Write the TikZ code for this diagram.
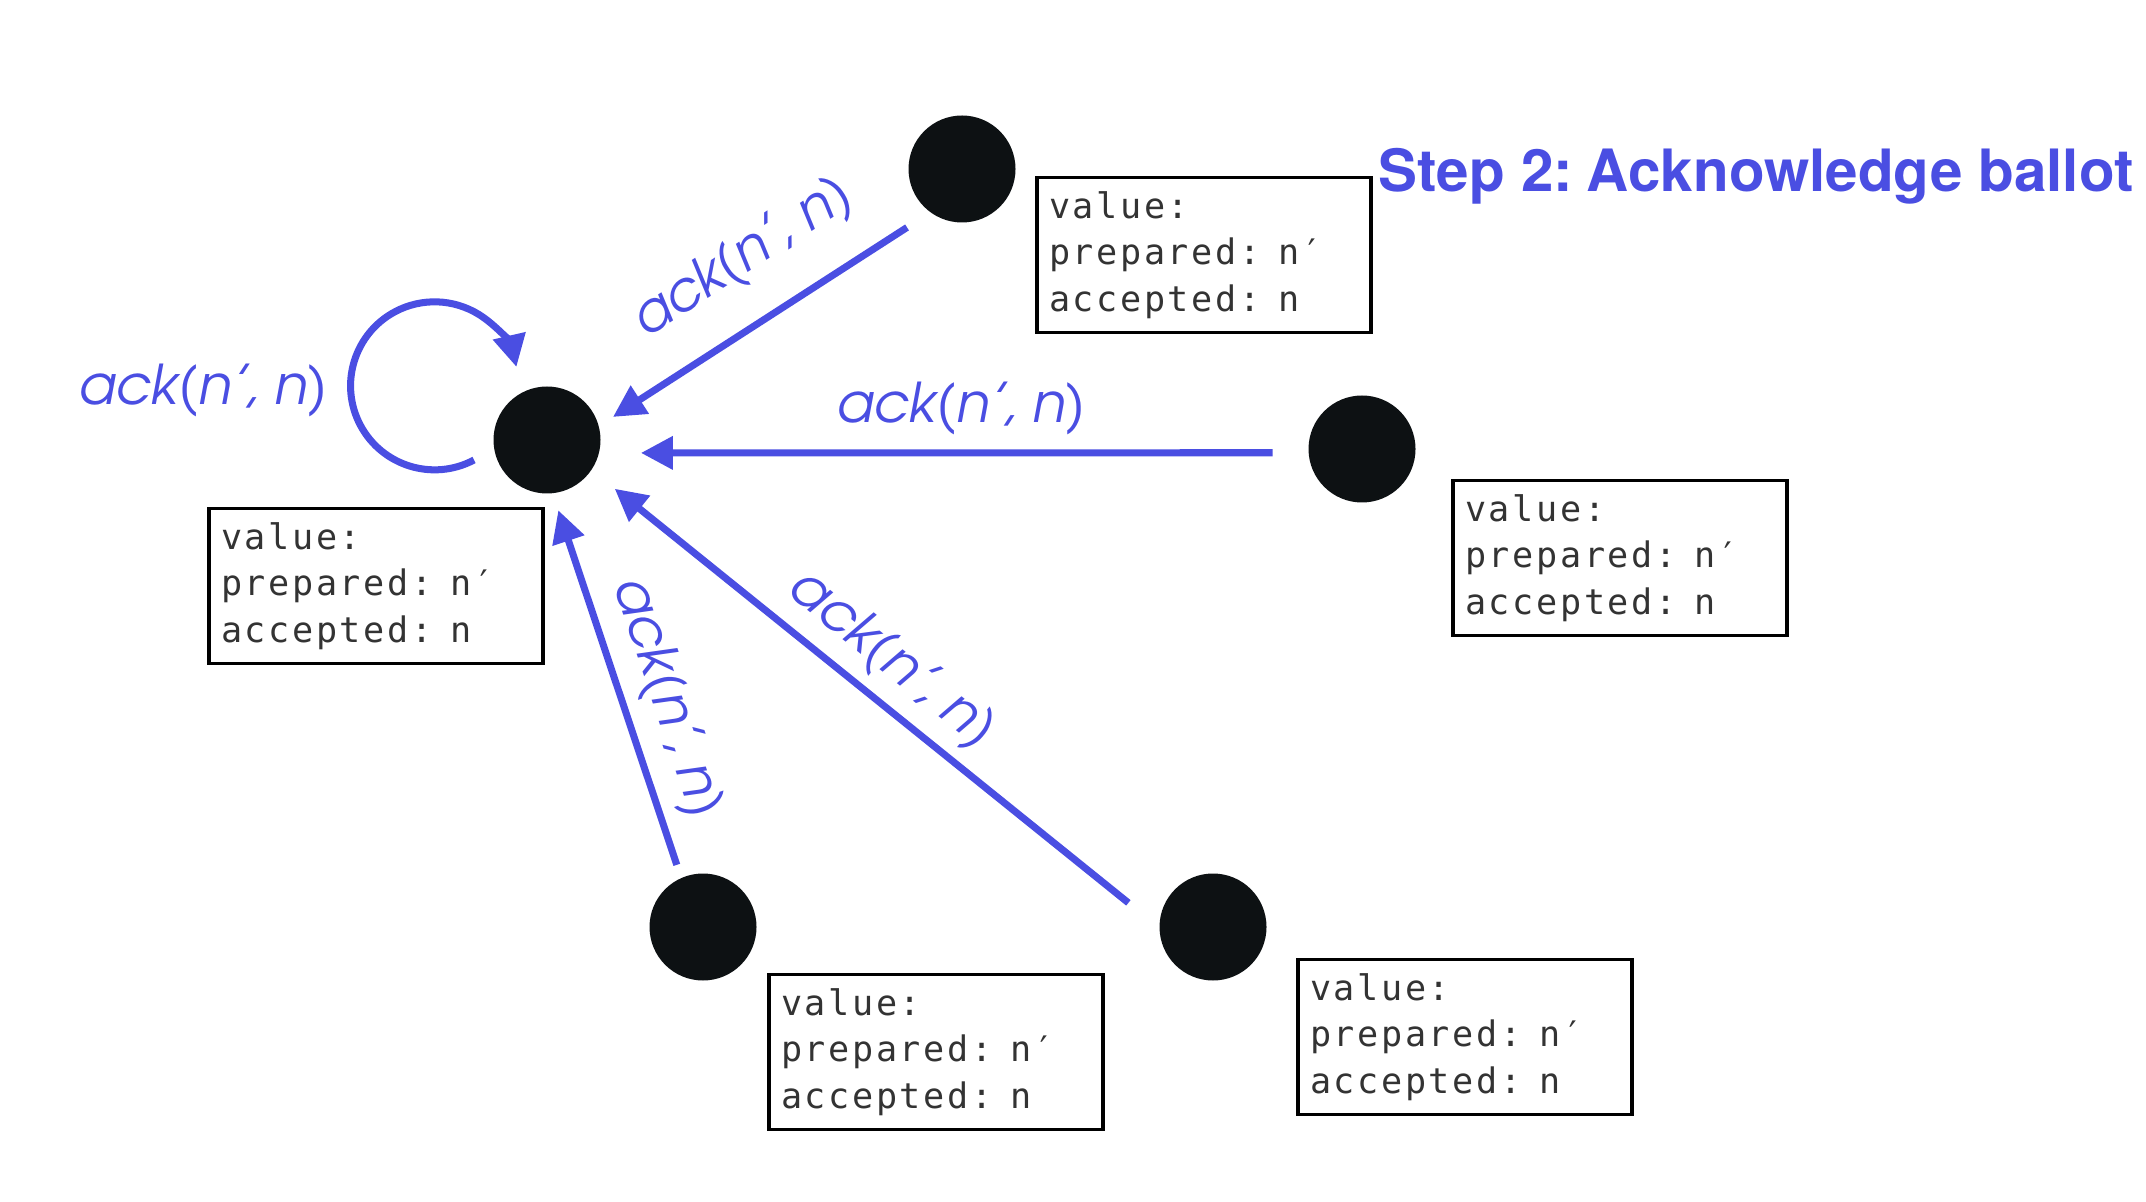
\documentclass[tikz,border=0pt]{standalone}
\usepackage{fontspec}
\usetikzlibrary{arrows.meta}
\newfontfamily\ackfont{TeX Gyre Adventor}
\newfontfamily\boxfont{DejaVu Sans Mono}[LetterSpace=7.5]
\newfontfamily\titlefont{TeX Gyre Heros}
\definecolor{ackblue}{RGB}{74,78,226}
\definecolor{dotblack}{RGB}{13,17,19}

\begin{document}
\begin{tikzpicture}[
  proc/.style={circle, fill=dotblack, minimum size=1.07cm, inner sep=0pt, outer sep=0pt},
  statebox/.style={draw, line width=1.1pt, minimum height=1.55cm, inner xsep=0.12cm, text width=3.1cm, align=left, text=black!80, font=\boxfont\fontsize{10}{13.3}\selectfont},
  ack/.style={draw=ackblue, line width=2pt, -{Triangle[length=0.32cm, width=0.32cm]}},
  acklbl/.style={text=ackblue, font=\ackfont\itshape\fontsize{15.6}{18}\selectfont, inner sep=0pt}
]
\useasboundingbox (0,0) rectangle (21.46,-12.02);

\node[proc] (A) at (5.47,-4.40) {};
\node[proc] (B) at (9.62,-1.69) {};
\node[proc] (C) at (13.62,-4.49) {};
\node[proc] (D) at (7.03,-9.27) {};
\node[proc] (E) at (12.13,-9.27) {};

\node[statebox] (boxA) at (3.76,-5.86) {value:\\prepared: n′\\accepted: n};
\node[statebox] (boxB) at (12.04,-2.55) {value:\\prepared: n′\\accepted: n};
\node[statebox] (boxC) at (16.20,-5.58) {value:\\prepared: n′\\accepted: n};
\node[statebox] (boxD) at (9.36,-10.52) {value:\\prepared: n′\\accepted: n};
\node[statebox] (boxE) at (14.65,-10.37) {value:\\prepared: n′\\accepted: n};

\node[anchor=base west, text=ackblue, font=\titlefont\bfseries\fontsize{16.6}{20}\selectfont, inner sep=0pt] (title) at (13.78,-1.92) {Step 2:\hspace{0.24em}Acknowledge ballot};

% acks back to the proposer
\draw[ack, shorten <=0.28cm, shorten >=0.17cm] (B.234) -- (A.15);
\draw[ack, shorten <=0.36cm, shorten >=0.42cm] (C.184) -- (A.-14);
\draw[ack, shorten <=0.40cm, shorten >=0.30cm] (E.181) -- (A.-34);
\draw[ack, shorten <=0.14cm, shorten >=0.18cm] (D.114) -- (A.-84);
\draw[ack] (A.center) ++(-0.73,-0.20) arc[start angle=-62, end angle=-347, radius=0.84];

\node[acklbl, rotate=33] (lblB) at (7.43,-2.59) {ack(n’, n)};
\node[acklbl] (lblC) at (9.61,-4.08) {ack(n’, n)};
\node[acklbl, rotate=-38.8] (lblE) at (8.91,-6.60) {ack(n’, n)};
\node[acklbl, rotate=-71.5] (lblD) at (6.66,-6.98) {ack(n’, n)};
\node[acklbl] (lblA) at (2.03,-3.90) {ack(n’, n)};
\end{tikzpicture}
\end{document}
